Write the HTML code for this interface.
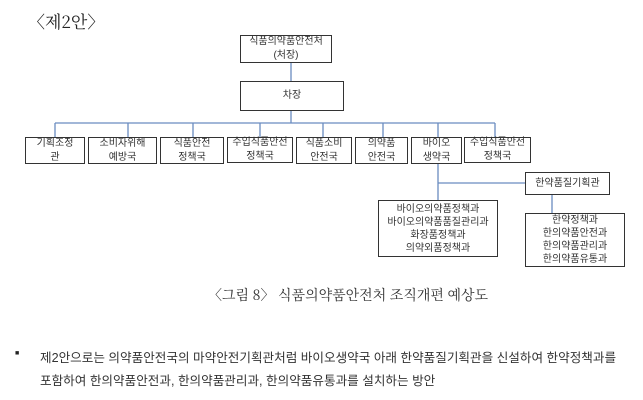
<!DOCTYPE html>
<html><head><meta charset="utf-8"><style>
body{margin:0;width:643px;height:400px;background:#fff;position:relative;overflow:hidden;font-family:"Liberation Sans","Noto Sans CJK KR",sans-serif;color:#222}
.b{position:absolute;border:1.5px solid #333;box-sizing:border-box;display:flex;flex-direction:column;align-items:center;justify-content:center;font-size:10px;line-height:14px;text-align:center;color:#333;background:#fff;white-space:nowrap}
.t{position:absolute;white-space:nowrap}
</style></head><body>
<div class="t" style="left:28px;top:8px;font-size:17px;font-family:'Noto Serif CJK SC','Noto Sans CJK KR',serif">〈제2안〉</div>
<svg style="position:absolute;left:0;top:0" width="643" height="400">
<g stroke="#6a8cc0" stroke-width="1.3" fill="none">
<line x1="291" y1="63" x2="291" y2="81"/>
<line x1="291" y1="111" x2="291" y2="123"/>
<line x1="55" y1="123" x2="495" y2="123"/>
<line x1="55" y1="123" x2="55" y2="137"/><line x1="128" y1="123" x2="128" y2="137"/>
<line x1="193" y1="123" x2="193" y2="137"/><line x1="260" y1="123" x2="260" y2="137"/>
<line x1="323" y1="123" x2="323" y2="137"/><line x1="383" y1="123" x2="383" y2="137"/>
<line x1="438" y1="123" x2="438" y2="137"/><line x1="495" y1="123" x2="495" y2="137"/>
<line x1="438" y1="164" x2="438" y2="200"/>
<line x1="438" y1="183" x2="525" y2="183"/>
<line x1="552" y1="195" x2="552" y2="213"/>
</g></svg>
<div class="b" style="left:240px;top:35px;width:92px;height:28px">식품의약품안전처<br>(처장)</div>
<div class="b" style="left:240px;top:81px;width:104px;height:30px">차장</div>
<div class="b" style="left:25px;top:137px;width:60px;height:27px">기획조정<br>관</div>
<div class="b" style="left:88px;top:137px;width:69px;height:27px">소비자위해<br>예방국</div>
<div class="b" style="left:160px;top:137px;width:64px;height:27px">식품안전<br>정책국</div>
<div class="b" style="left:227px;top:137px;width:66px;height:26px">수입식품안전<br>정책국</div>
<div class="b" style="left:296px;top:137px;width:56px;height:27px">식품소비<br>안전국</div>
<div class="b" style="left:355px;top:137px;width:53px;height:27px">의약품<br>안전국</div>
<div class="b" style="left:411px;top:137px;width:51px;height:27px">바이오<br>생약국</div>
<div class="b" style="left:464px;top:137px;width:67px;height:26px">수입식품안전<br>정책국</div>
<div class="b" style="left:378px;top:200px;width:120px;height:57px;line-height:13px">바이오의약품정책과<br>바이오의약품품질관리과<br>화장품정책과<br>의약외품정책과</div>
<div class="b" style="left:525px;top:172px;width:85px;height:23px">한약품질기획관</div>
<div class="b" style="left:525px;top:213px;width:100px;height:54px;line-height:13px">한약정책과<br>한의약품안전과<br>한의약품관리과<br>한의약품유통과</div>
<div class="t" style="left:208px;top:285px;font-size:14px;font-family:'Noto Serif CJK SC','Noto Sans CJK KR',serif;color:#333">〈그림 8〉 식품의약품안전처 조직개편 예상도</div>
<div class="t" style="left:15px;top:350px;font-size:7px">■</div>
<div class="t" style="left:40px;top:347px;font-size:12.6px;color:#333">제2안으로는 의약품안전국의 마약안전기획관처럼 바이오생약국 아래 한약품질기획관을 신설하여 한약정책과를</div>
<div class="t" style="left:40px;top:370px;font-size:12.6px;color:#333">포함하여 한의약품안전과, 한의약품관리과, 한의약품유통과를 설치하는 방안</div>
</body></html>
